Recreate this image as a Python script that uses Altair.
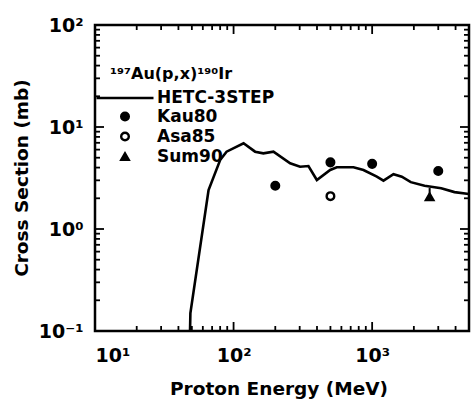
import altair as alt
import pandas as pd

# HETC-3STEP calculated excitation function for 197Au(p,x)190Ir
calc_energy = [48.5, 48.8, 66, 80, 89, 118, 143, 164, 194, 256, 302, 347, 399,
               498, 556, 733, 866, 1081, 1207, 1426, 1637, 1900, 2390, 3150,
               3930, 5000]
calc_xs = [0.1, 0.15, 2.41, 4.74, 5.73, 6.92, 5.73, 5.52, 5.73, 4.41, 4.08,
           4.14, 3.02, 3.79, 4.03, 4.03, 3.79, 3.26, 2.98, 3.44, 3.26, 2.88,
           2.66, 2.51, 2.30, 2.20]

# Measured cross sections
exp_set = ["Kau80", "Kau80", "Kau80", "Kau80", "Asa85", "Sum90"]
exp_energy = [200, 500, 1000, 3000, 500, 2600]
exp_xs = [2.65, 4.5, 4.35, 3.7, 2.1, 2.07]

# Error bar on the Sum90 point
err_energy = [2600]
err_lo = [2.07]
err_hi = [2.52]

series = ["HETC-3STEP", "Kau80", "Asa85", "Sum90"]
series_shape = ["stroke", "circle", "circle", "triangle-up"]
series_fill = ["black", "black", "white", "black"]
series_size = [3250, 58, 58, 55]

x_major = [10, 100, 1000]
x_minor = [20, 30, 40, 50, 60, 70, 80, 90, 200, 300, 400, 500, 600, 700, 800,
           900, 2000, 3000, 4000]
y_major = [0.1, 1, 10, 100]
y_minor = [0.2, 0.3, 0.4, 0.5, 0.6, 0.7, 0.8, 0.9, 2, 3, 4, 5, 6, 7, 8, 9,
           20, 30, 40, 50, 60, 70, 80, 90]

reaction = "¹⁹⁷Au(p,x)¹⁹⁰Ir"
x_title = "Proton Energy (MeV)"
y_title = "Cross Section (mb)"

FONT = "DejaVu Sans"
W, H = 374, 306
X_LO, X_HI = 10, 5000
Y_LO, Y_HI = 0.1, 100
MAJOR, MINOR = 9, 5
# pixels per decade on each log axis, used to turn tick lengths into scale units
PX_X = W / 2.69897
PX_Y = H / 3.0

calc = pd.DataFrame({"E": calc_energy, "xs": calc_xs})
exp = pd.DataFrame({"E": exp_energy, "xs": exp_xs, "set": exp_set})
err = pd.DataFrame({"E": err_energy, "lo": err_lo, "hi": err_hi})

xscale = alt.Scale(type="log", domain=[X_LO, X_HI], nice=False)
yscale = alt.Scale(type="log", domain=[Y_LO, Y_HI], nice=False)

x_label_expr = "datum.value < 50 ? '10¹' : datum.value < 500 ? '10²' : '10³'"
y_label_expr = ("datum.value < 0.5 ? '10⁻¹' : datum.value < 5 ? '10⁰' : "
                "datum.value < 50 ? '10¹' : '10²'")

# Shared axes: tick labels only; frame ticks and axis titles are drawn as marks
x_axis = alt.Axis(values=x_major, labelExpr=x_label_expr, ticks=False,
                  tickSize=0, domain=False, grid=False, labelPadding=15,
                  title=None)
y_axis = alt.Axis(values=y_major, labelExpr=y_label_expr, ticks=False,
                  tickSize=0, domain=False, grid=False, labelPadding=12,
                  title=None)

line = alt.Chart(calc).mark_line(color="black", strokeWidth=2.6, clip=True).encode(
    x=alt.X("E:Q", scale=xscale, axis=x_axis),
    y=alt.Y("xs:Q", scale=yscale, axis=y_axis),
)

points = alt.Chart(exp).mark_point(filled=True, stroke="black", strokeWidth=2.4,
                                   opacity=1, fillOpacity=1).encode(
    x=alt.X("E:Q", scale=xscale, axis=x_axis),
    y=alt.Y("xs:Q", scale=yscale, axis=y_axis),
    shape=alt.Shape("set:N", scale=alt.Scale(domain=series, range=series_shape),
                    legend=alt.Legend(
                        title=None, orient="none", legendX=0, legendY=43,
                        direction="vertical", symbolStrokeColor="black",
                        symbolStrokeWidth=2.4)),
    fill=alt.Fill("set:N", scale=alt.Scale(domain=series, range=series_fill)),
    stroke=alt.Stroke("set:N", scale=alt.Scale(domain=series,
                                               range=["black"] * len(series))),
    size=alt.Size("set:N", scale=alt.Scale(type="ordinal", domain=series,
                                           range=series_size)),
)

errbar = alt.Chart(err).mark_rule(color="black", strokeWidth=2).encode(
    x=alt.X("E:Q", scale=xscale, axis=x_axis),
    y=alt.Y("lo:Q", scale=yscale, axis=y_axis),
    y2="hi:Q",
)


def x_ticks(values, size, top):
    # inward ticks along the bottom or top edge of the frame
    step = 10 ** (size / PX_Y)
    y0, y1 = (Y_HI, Y_HI / step) if top else (Y_LO, Y_LO * step)
    return alt.Chart(pd.DataFrame({"v": values})).mark_rule(
        color="black", strokeWidth=1.8).encode(
        x=alt.X("v:Q", scale=xscale, axis=x_axis),
        y=alt.Y(datum=y0, scale=yscale, axis=y_axis),
        y2=alt.Y2(datum=y1))


def y_ticks(values, size, right):
    # inward ticks along the left or right edge of the frame
    step = 10 ** (size / PX_X)
    x0, x1 = (X_HI, X_HI / step) if right else (X_LO, X_LO * step)
    return alt.Chart(pd.DataFrame({"v": values})).mark_rule(
        color="black", strokeWidth=1.8).encode(
        y=alt.Y("v:Q", scale=yscale, axis=y_axis),
        x=alt.X(datum=x0, scale=xscale, axis=x_axis),
        x2=alt.X2(datum=x1))


ticks = [
    x_ticks(x_major, MAJOR, False), x_ticks(x_minor, MINOR, False),
    x_ticks(x_major, MAJOR, True), x_ticks(x_minor, MINOR, True),
    y_ticks(y_major, MAJOR, False), y_ticks(y_minor, MINOR, False),
    y_ticks(y_major, MAJOR, True), y_ticks(y_minor, MINOR, True),
]

label = alt.Chart(pd.DataFrame({"t": [reaction]})).mark_text(
    align="left", baseline="alphabetic", font=FONT, fontSize=16,
    fontWeight="bold", color="black",
).encode(x=alt.value(15), y=alt.value(54), text="t:N")

xtitle = alt.Chart(pd.DataFrame({"t": [x_title]})).mark_text(
    align="center", baseline="alphabetic", font=FONT, fontSize=18.5,
    fontWeight="bold", color="black",
).encode(x=alt.value(W / 2 - 3), y=alt.value(H + 64), text="t:N")

ytitle = alt.Chart(pd.DataFrame({"t": [y_title]})).mark_text(
    align="center", baseline="alphabetic", angle=270, font=FONT, fontSize=18.5,
    fontWeight="bold", color="black",
).encode(x=alt.value(-67), y=alt.value(H / 2), text="t:N")

chart = alt.layer(line, *ticks, errbar, points, label, xtitle, ytitle).properties(
    width=W, height=H,
    padding={"left": 95, "top": 25, "right": 2, "bottom": 70},
    autosize=alt.AutoSizeParams(type="none"),
).configure_view(
    stroke="black", strokeWidth=2.5
).configure_axis(
    labelFont=FONT, labelFontSize=19, labelFontWeight="bold", labelColor="black",
).configure_legend(
    labelFont=FONT, labelFontSize=17, labelFontWeight="bold", labelColor="black",
    labelOffset=2, rowPadding=1, padding=0,
)

chart.save("out.html", embed_options={"renderer": "svg", "actions": False})
